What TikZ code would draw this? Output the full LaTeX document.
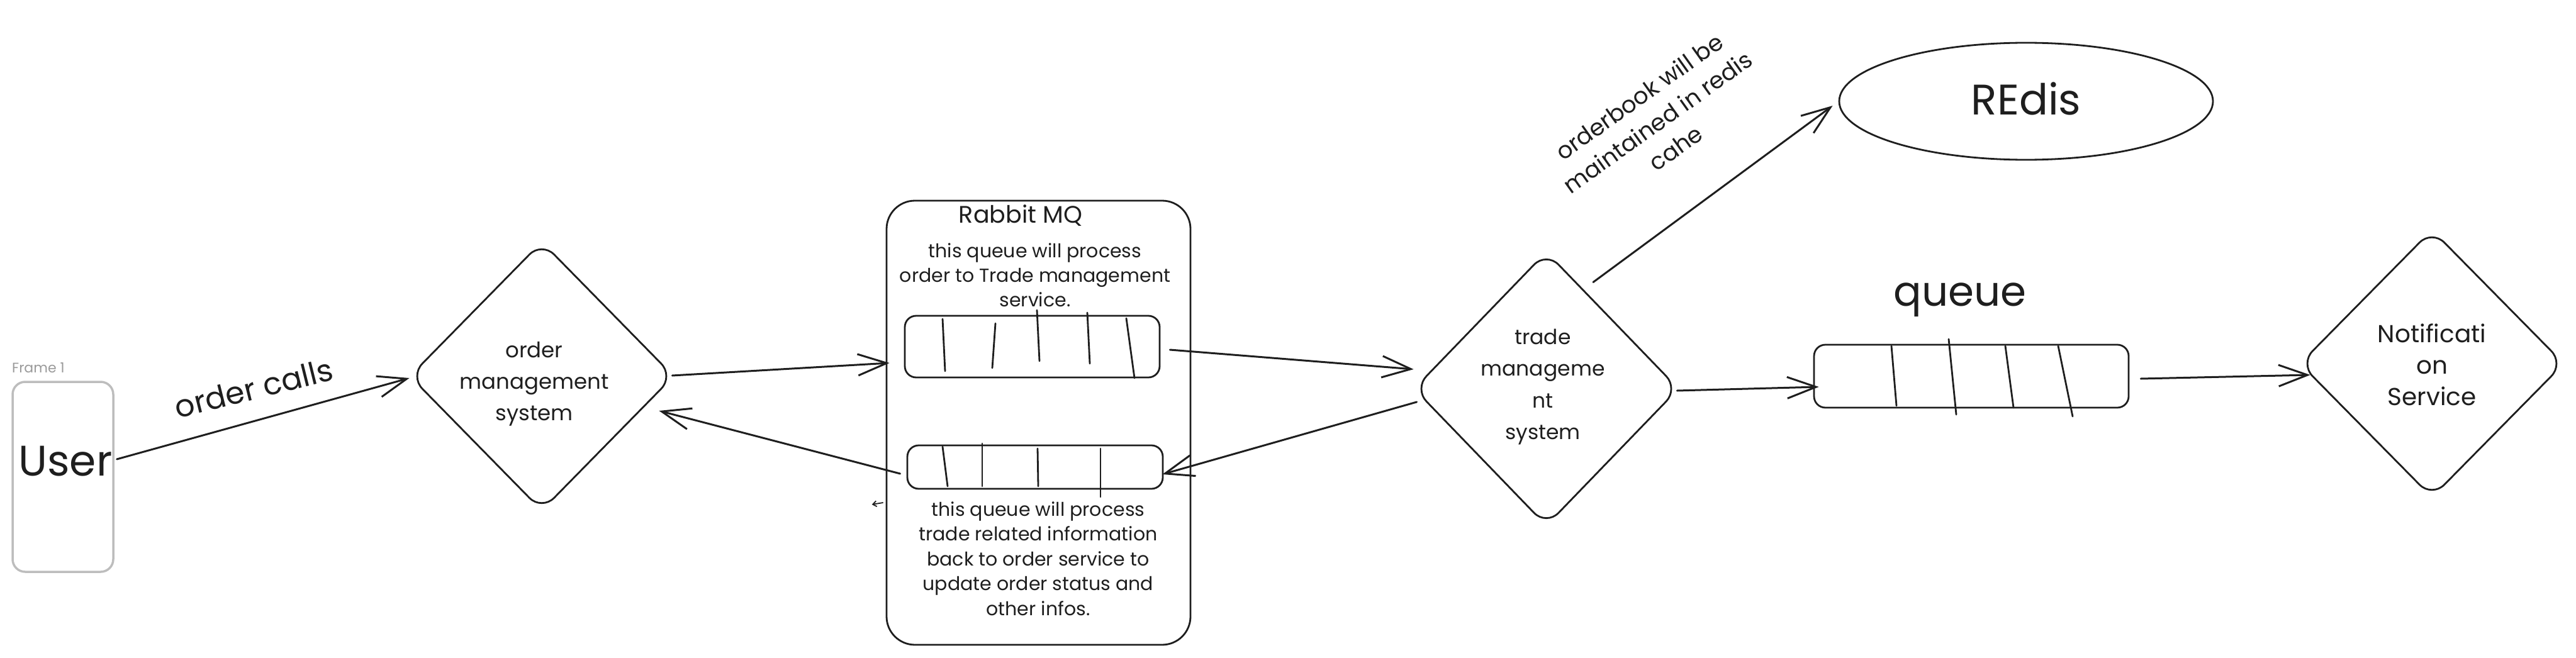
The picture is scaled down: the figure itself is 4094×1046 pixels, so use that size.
\documentclass[tikz,border=0pt]{standalone}
\usepackage{fontspec}
\setmainfont{Poppins}
\usetikzlibrary{shapes.geometric,arrows.meta,calc}
\definecolor{ink}{HTML}{1E1E1E}
\definecolor{framegray}{HTML}{BDBDBD}
\definecolor{framelabel}{HTML}{9A9A9A}
\newcommand\myfs[2]{\fontsize{#1}{#2}\selectfont}
\tikzset{
  shapeline/.style={draw=ink, line width=2.8pt},
  dia/.style={shapeline, diamond, inner sep=0pt, rounded corners=28pt},
  qbox/.style={shapeline, rectangle, inner sep=0pt, rounded corners=18pt},
  txt/.style={text=ink, inner sep=0pt, align=center},
  conn/.style={draw=ink, line width=3pt, line cap=round,
    -{Straight Barb[length=46pt,width=34pt,line width=3pt]}},
  divider/.style={draw=ink, line width=2.8pt, line cap=round},
}
\begin{document}
\begin{tikzpicture}[x=1pt,y=-1pt]
\useasboundingbox (0,0) rectangle (4094,1046);
% Frame with user
\node[draw=framegray, line width=3.5pt, rounded corners=20pt, minimum width=160pt, minimum height=302pt, inner sep=0pt] (frame) at (100,758) {};
\node[anchor=west, text=framelabel, inner sep=0pt, font=\myfs{22}{26}] (framelbl) at (19,585) {Frame 1};
\node[txt, font=\myfs{68}{74}] (user) at (104,733) {User};
% order management system
\node[dia, minimum width=420pt, minimum height=428pt] (oms) at (861,598) {};
\node[txt, font=\myfs{34}{50}] (omst) at (849,610) {order\\management\\system};
\node[txt, rotate=14, font=\myfs{49}{56}] (ordercalls) at (403,617) {order calls};
% Rabbit MQ
\node[shapeline, rectangle, rounded corners=45pt, minimum width=483pt, minimum height=706pt, inner sep=0pt] (rabbit) at (1650.5,672) {};
\node[txt, font=\myfs{38}{44}] (rabbitt) at (1622,343) {Rabbit MQ};
\node[txt, font=\myfs{30}{39}] (toptext) at (1645,437) {this queue will process\\order to Trade management\\service.};
\node[qbox, minimum width=405pt, minimum height=98pt] (topq) at (1640.5,551) {};
\node[qbox, minimum width=406pt, minimum height=69pt] (botq) at (1645,742.5) {};
\node[txt, font=\myfs{30}{39.5}] (bottext) at (1650,888) {this queue will process\\trade related information\\back to order service to\\update order status and\\other infos.};
% dividers of the queues
\draw[divider] (1498,507) -- (1502,590);
\draw[divider] (1582,514) -- (1577,585);
\draw[divider] (1648,493) -- (1652,574);
\draw[divider] (1728,497) -- (1732,578);
\draw[divider] (1790,506) -- (1803,601);
\draw[divider] (1498,710) -- (1506,773);
\draw[divider] (1561,705) -- (1561,773);
\draw[divider] (1649,713) -- (1650,773);
\draw[divider] (1749,713) -- (1749,790);
% trade management system
\node[dia, minimum width=421pt, minimum height=436pt] (trade) at (2457.5,618) {};
\node[txt, font=\myfs{33}{50.5}] (tradet) at (2452,615) {trade\\manageme\\nt\\system};
% Redis
\node[shapeline, ellipse, minimum width=594pt, minimum height=186pt, inner sep=0pt] (redis) at (3220,161) {};
\node[txt, font=\myfs{68}{74}] (redist) at (3220,157) {REdis};
\node[txt, rotate=35.5, font=\myfs{37}{50}] (cachelbl) at (2634,194) {orderbook will be\\maintained in redis\\cahe};
% queue
\node[txt, font=\myfs{66}{72}] (queuelbl) at (3115,477) {queue};
\node[qbox, minimum width=500pt, minimum height=100pt] (rq) at (3133,598) {};
\draw[divider] (3006,550) -- (3014,645);
\draw[divider] (3097,539) -- (3109,659);
\draw[divider] (3187,550) -- (3200,648);
\draw[divider] (3271,550) -- (3294,662);
% Notification
\node[dia, minimum width=420pt, minimum height=426pt] (notif) at (3865,578) {};
\node[txt, font=\myfs{39}{50}] (notift) at (3865,580) {Notificati\\on\\Service};
% connectors
\draw[conn] ($(user.east)+(7,-3)$) -- ($(oms.west)+(1,3)$);
\draw[conn] ($(oms.east)+(-4,-1)$) -- ($(topq.west)+(-23,26)$);
\draw[conn] ($(botq.west)+(-10,10.5)$) -- ($(oms.east)+(-25,55)$);
\draw[conn] ($(topq.east)+(15,5)$) -- ($(trade.west)+(1,-31)$);
\draw[conn] ($(trade.west)+(6,21)$) -- ($(botq.east)+(-2,11.5)$);
\draw[draw=ink, line width=1.8pt, -{Straight Barb[length=6pt,width=9pt,line width=1.8pt]}] ($(rabbit.west)+(-4,127)$) -- ($(rabbit.west)+(-22,130)$);
\draw[conn] ($(trade.north)+(74.5,50)$) -- ($(redis.west)+(-9,7)$);
\draw[conn] ($(trade.east)+(-4,3)$) -- ($(rq.west)+(9,17)$);
\draw[conn] ($(rq.east)+(18,4)$) -- ($(notif.west)+(18,18)$);
\end{tikzpicture}
\end{document}
